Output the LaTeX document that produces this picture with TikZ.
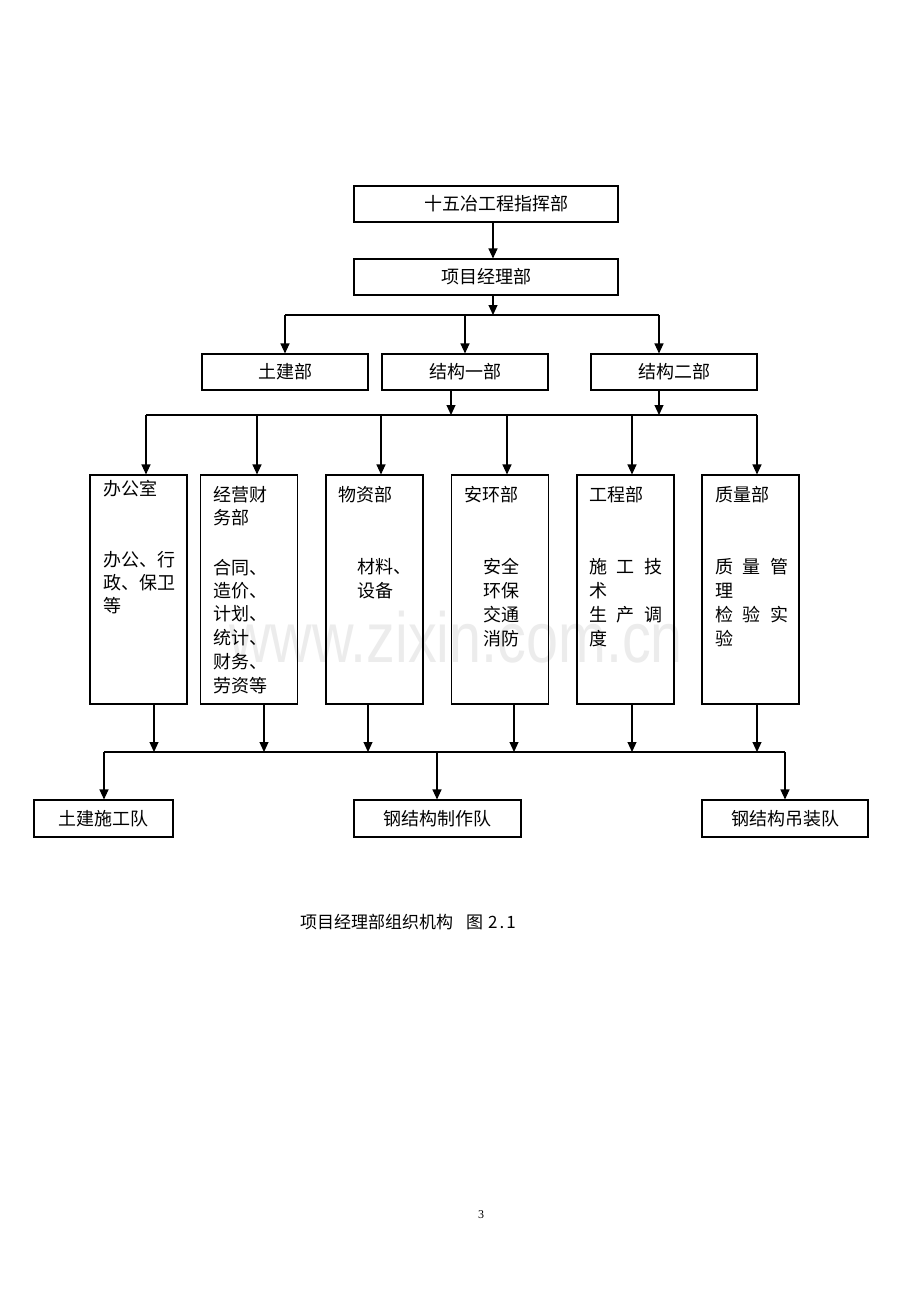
\documentclass[tikz,border=0pt]{standalone}
\usepackage{fontspec}
\setmainfont{Noto Sans CJK SC}
\newfontfamily\wmfont{Liberation Sans}
\newfontfamily\pgfont{Liberation Serif}
\usetikzlibrary{arrows.meta}
\begin{document}
\begin{tikzpicture}[x=1pt,y=-1pt,
  box/.style={draw, line width=1.1pt, inner sep=0pt, minimum height=36pt, font=\fontsize{18}{18}\selectfont},
  tall/.style={draw, line width=1.1pt, inner sep=0pt, minimum height=229pt, minimum width=97pt},
  arr/.style={line width=1.1pt, -{Triangle[length=10pt,width=9pt]}},
  ln/.style={line width=1.1pt},
  txt/.style={anchor=west, inner sep=0pt, font=\fontsize{18}{18}\selectfont}]
\useasboundingbox[fill=white] (0,0) rectangle (920,1302);

% watermark
\node[anchor=base, inner sep=0pt, text=gray!15, font=\wmfont\fontsize{71}{71}\selectfont] (wm) at (456,662) {\scalebox{0.81}[1]{www.zixin.com.cn}};

% top levels
\node[box, minimum width=264pt] (b1) at (486,204) {\hspace*{21pt}十五冶工程指挥部};
\node[box, minimum width=264pt] (b2) at (486,277) {项目经理部};
\node[box, minimum width=166pt] (tj) at (285,372) {土建部};
\node[box, minimum width=166pt] (s1) at (465,372) {结构一部};
\node[box, minimum width=166pt] (s2) at (674,372) {结构二部};

\coordinate (j1) at (493,315);
\coordinate (j1l) at (285,315);
\coordinate (j1m) at (465,315);
\coordinate (j1r) at (659,315);
\draw[arr] (b1.south -| j1) -- (b2.north -| j1);
\draw[arr] (b2.south -| j1) -- (j1);
\draw[ln] (j1l) -- (j1r);
\draw[arr] (j1l) -- (tj.north -| j1l);
\draw[arr] (j1m) -- (s1.north -| j1m);
\draw[arr] (j1r) -- (s2.north -| j1r);

% departments
\node[tall] (d1) at (138.5,589.5) {};
\node[tall] (d2) at (249,589.5) {};
\node[tall] (d3) at (374.5,589.5) {};
\node[tall] (d4) at (500,589.5) {};
\node[tall] (d5) at (625.5,589.5) {};
\node[tall] (d6) at (750.5,589.5) {};

\coordinate (k1) at (451,415);
\coordinate (k2) at (659,415);
\coordinate (kl) at (146,415);
\coordinate (kr) at (757,415);
\draw[arr] (s1.south -| k1) -- (k1);
\draw[arr] (s2.south -| k2) -- (k2);
\draw[ln] (kl) -- (kr);
\foreach \x/\n in {146/d1,257/d2,381/d3,507/d4,632/d5,757/d6}{
  \coordinate (k-\n) at (\x,415);
  \draw[arr] (k-\n) -- (\n.north -| k-\n);
}

% texts in departments
\node[txt] (d1t) at (103,489) {办公室};
\node[txt] (d1a) at (103,560) {办公、行};
\node[txt] (d1b) at (103,583) {政、保卫};
\node[txt] (d1c) at (103,606) {等};

\node[txt] (d2t) at (213,495) {经营财};
\node[txt] (d2u) at (213,518) {务部};
\node[txt] (d2a) at (213,568) {合同、};
\node[txt] (d2b) at (213,591) {造价、};
\node[txt] (d2c) at (213,614) {计划、};
\node[txt] (d2d) at (213,638) {统计、};
\node[txt] (d2e) at (213,662) {财务、};
\node[txt] (d2f) at (213,686) {劳资等};

\node[txt] (d3t) at (338,495) {物资部};
\node[txt] (d3a) at (357,567) {材料、};
\node[txt] (d3b) at (357,591) {设备};

\node[txt] (d4t) at (464,495) {安环部};
\node[txt] (d4a) at (483,567) {安全};
\node[txt] (d4b) at (483,591) {环保};
\node[txt] (d4c) at (483,615) {交通};
\node[txt] (d4d) at (483,639) {消防};

\node[txt] (d5t) at (589,495) {工程部};
\node[txt] (d5a) at (589,567) {施\hspace{9.5pt}工\hspace{9.5pt}技};
\node[txt] (d5b) at (589,591) {术};
\node[txt] (d5c) at (589,615) {生\hspace{9.5pt}产\hspace{9.5pt}调};
\node[txt] (d5d) at (589,639) {度};

\node[txt] (d6t) at (715,495) {质量部};
\node[txt] (d6a) at (715,567) {质\hspace{9.5pt}量\hspace{9.5pt}管};
\node[txt] (d6b) at (715,591) {理};
\node[txt] (d6c) at (715,615) {检\hspace{9.5pt}验\hspace{9.5pt}实};
\node[txt] (d6d) at (715,639) {验};

% teams
\node[box, minimum width=139pt, minimum height=37pt] (t1) at (103.5,818.5) {土建施工队};
\node[box, minimum width=167pt, minimum height=37pt] (t2) at (437.5,818.5) {钢结构制作队};
\node[box, minimum width=166pt, minimum height=37pt] (t3) at (785,818.5) {钢结构吊装队};

\coordinate (ml) at (104,752);
\coordinate (mm) at (437,752);
\coordinate (mr) at (785,752);
\foreach \x/\n in {154/d1,264/d2,368/d3,514/d4,632/d5,757/d6}{
  \coordinate (m-\n) at (\x,752);
  \draw[arr] (\n.south -| m-\n) -- (m-\n);
}
\draw[ln] (ml) -- (mr);
\draw[arr] (ml) -- (t1.north -| ml);
\draw[arr] (mm) -- (t2.north -| mm);
\draw[arr] (mr) -- (t3.north -| mr);

% caption and page number
\node[anchor=west, inner sep=0pt, font=\fontsize{17}{17}\selectfont] (cap) at (300,922) {项目经理部组织机构\hspace{13pt}图\hspace{5pt}2\hspace{2pt}.\hspace{2pt}1};
\node[inner sep=0pt, font=\pgfont\fontsize{12}{12}\selectfont] (pg) at (481,1215) {3};
\end{tikzpicture}
\end{document}
